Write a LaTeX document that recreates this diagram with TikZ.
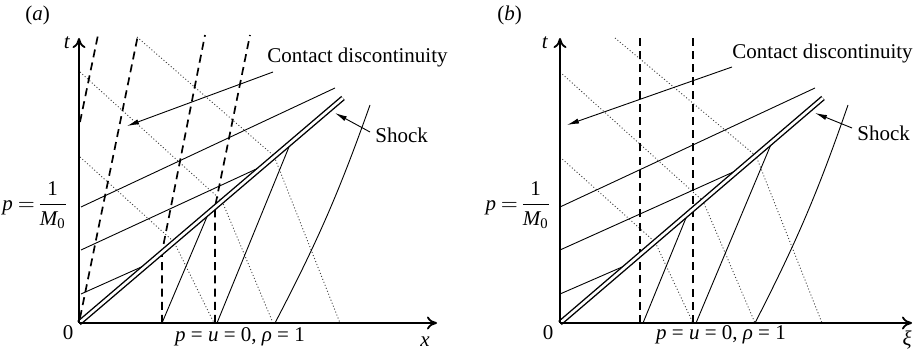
\documentclass[tikz,border=0pt]{standalone}
\usepackage{amsmath}
\usepackage{fontspec}
\setmainfont{Liberation Serif}
\usetikzlibrary{arrows.meta}
\tikzset{
  ax/.style={line width=0.9pt, -{To[length=5pt,width=6.5pt]}},          % axis
  ch/.style={line width=0.45pt},                                          % characteristic
  pp/.style={line width=0.85pt, dash pattern=on 4pt off 2.6pt},           % particle path
  rc/.style={line width=0.45pt, black!75, dash pattern=on 0.5pt off 1.1pt}, % reflected characteristic
  sh/.style={line width=0.7pt, double, double distance=1.3pt},            % shock
  ptr/.style={line width=0.45pt, -{Latex[length=6pt,width=2.6pt]}},       % pointer
  lbl/.style={font=\fontsize{10.5}{12}\selectfont, inner sep=1pt},
}
\newcommand{\pinit}{$\nulldelimiterspace=0pt\textit{p}\:{=}\:\dfrac{\textup{1}}{\textit{M}_{\textup{0}}}$}

\begin{document}
\begin{tikzpicture}[x=0.5pt, y=0.5pt]
  \useasboundingbox (0,0) rectangle (913,352);

  % (a) physical plane
  \begin{scope}[shift={(79,29)}]
    \coordinate (Oa) at (0,0);
    \coordinate (Sa) at (264,225);
    \foreach \p/\q/\r in {{58,286}/{195,167}/{261,0},{1,251}/{143,122}/{194,0},{1,166}/{95,81}/{135,0}}
      \draw[rc] (\p) -- (\q) -- (\r);
    \draw[pp] (1,201) -- (19,288);
    \draw[pp] (1,5) -- (59,288);
    \draw[pp] (83,0) -- (83,71) -- (126,288);
    \draw[pp] (136,0) -- (136,116) -- (171,288);
    \foreach \p/\q in {{2,116}/{256,235},{2,73}/{186,158},{2,29}/{69,59},{83,0}/{130,111},{138,0}/{212,181}}
      \draw[ch] (\p) -- (\q);
    \draw[ch] (196,0) to[bend right=4] (291,218);
    \draw[sh] (Oa) -- (Sa);
    \draw[ax] (Oa) -- (0,285) coordinate (Ta);
    \draw[ax] (Oa) -- (358,0) coordinate (Xa);
    \node[lbl] (pla) at (-41.5,308) {(\textit{a})};
    \node[lbl] (tla) at (-12,280) {\textit{t}};
    \node[lbl] (zla) at (-11,-10) {0};
    \node[lbl, anchor=east] (mla) at (-11,118) {\pinit};
    \node[lbl] (ula) at (161,-14) {\textit{p} = \textit{u} = 0, \textit{ρ} = 1};
    \node[lbl] (xla) at (346,-19) {\textit{x}};
    \node[lbl, anchor=west] (cda) at (186,266) {Contact discontinuity};
    \node[lbl, anchor=west] (ska) at (294,188) {Shock};
    \coordinate (cda1) at (194,251);
    \coordinate (cda2) at (48,197);
    \coordinate (ska1) at (291,191);
    \coordinate (ska2) at (256,210);
    \draw[ptr] (cda1) -- (cda2);
    \draw[ptr] (ska1) -- (ska2);
  \end{scope}

  % (b) moving frame
  \begin{scope}[shift={(560,29)}]
    \coordinate (Ob) at (0,0);
    \coordinate (Sb) at (263,225);
    \foreach \p/\q/\r in {{55,285}/{196,167}/{262,0},{0,251}/{143,122}/{195,0},{0,166}/{95,81}/{133,0}}
      \draw[rc] (\p) -- (\q) -- (\r);
    \draw[pp] (80,0) -- (80,288);
    \draw[pp] (133,0) -- (133,288);
    \foreach \p/\q in {{0,116}/{255,235},{0,73}/{180,154},{0,29}/{69,59},{83,0}/{128,110},{136,0}/{212,181}}
      \draw[ch] (\p) -- (\q);
    \draw[ch] (195,0) to[bend right=4] (288,218);
    \draw[sh] (Ob) -- (Sb);
    \draw[ax] (Ob) -- (0,285) coordinate (Tb);
    \draw[ax] (Ob) -- (352,0) coordinate (Xb);
    \node[lbl] (plb) at (-50.5,308) {(\textit{b})};
    \node[lbl] (tlb) at (-15,280) {\textit{t}};
    \node[lbl] (zlb) at (-12,-10) {0};
    \node[lbl, anchor=east] (mlb) at (-9,118) {\pinit};
    \node[lbl] (ulb) at (161,-12) {\textit{p} = \textit{u} = 0, \textit{ρ} = 1};
    \node[lbl] (xlb) at (347,-17) {\textit{ξ}};
    \node[lbl, anchor=west] (cdb) at (170,270) {Contact discontinuity};
    \node[lbl, anchor=west] (skb) at (295,190) {Shock};
    \coordinate (cdb1) at (172,256);
    \coordinate (cdb2) at (7,198);
    \coordinate (skb1) at (292,195);
    \coordinate (skb2) at (255,210);
    \draw[ptr] (cdb1) -- (cdb2);
    \draw[ptr] (skb1) -- (skb2);
  \end{scope}
\end{tikzpicture}
\end{document}
